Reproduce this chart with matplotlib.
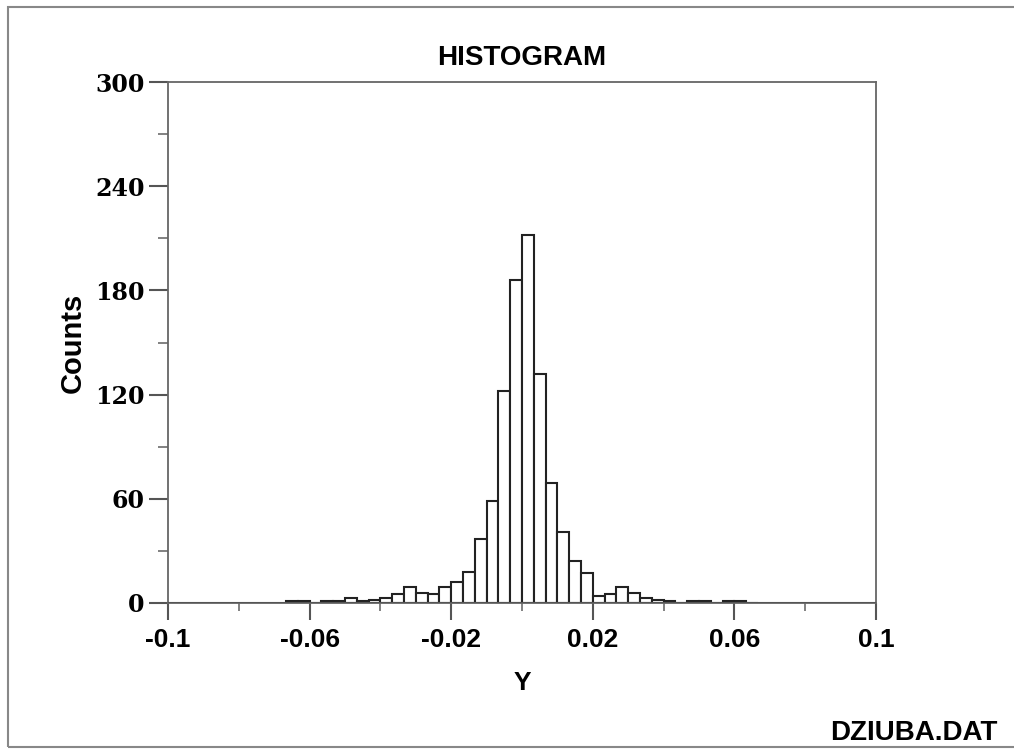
import matplotlib.pyplot as plt
import numpy as np
from matplotlib.patches import Rectangle

# class width 1/300, bins from -0.0667 to 0.0667
bin_width = 1.0 / 300
bin_left = np.arange(-20, 20) * bin_width
counts = [1, 1, 0, 1, 1, 3, 1, 2, 3, 5,
          9, 6, 5, 9, 12, 18, 37, 59, 122, 186,
          212, 132, 69, 41, 24, 17, 4, 5, 9, 6,
          3, 2, 1, 0, 1, 1, 0, 1, 1, 0]

xticks = [-0.1, -0.06, -0.02, 0.02, 0.06, 0.1]
xtick_labels = ['-0.1', '-0.06', '-0.02', '0.02', '0.06', '0.1']
xminor = [-0.08, -0.04, 0.0, 0.04, 0.08]
yticks = [0, 60, 120, 180, 240, 300]
yminor = [30, 90, 150, 210, 270]

sans = ['Liberation Sans', 'DejaVu Sans']
serif = ['DejaVu Serif', 'Liberation Serif']

fig = plt.figure(figsize=(10.14, 7.49), dpi=100)
ax = fig.add_axes([168 / 1014, 1 - 603 / 749, (876 - 168) / 1014, (603 - 82) / 749])

ax.bar(bin_left, counts, width=bin_width, align='edge', facecolor='white',
       edgecolor='#222222', linewidth=1.5, zorder=3)
ax.axhline(0, color='#555555', linewidth=1.5, zorder=4)

ax.set_xlim(-0.1, 0.1)
ax.set_ylim(0, 300)
ax.set_xticks(xticks)
ax.set_xticklabels(xtick_labels, family=sans, fontsize=19, fontweight='bold')
ax.set_xticks(xminor, minor=True)
ax.set_yticks(yticks)
ax.set_yticklabels([str(v) for v in yticks], family=serif, fontsize=17,
                   fontweight='bold')
ax.set_yticks(yminor, minor=True)

for s in ax.spines.values():
    s.set_color('#666666')
    s.set_linewidth(1.3)

ax.tick_params(axis='both', which='major', direction='out', color='#555555',
               width=1.5)
ax.tick_params(axis='x', which='major', length=12, pad=6)
ax.tick_params(axis='x', which='minor', length=6, width=1.3, color='#777777')
ax.tick_params(axis='y', which='major', length=14, pad=3)
ax.tick_params(axis='y', which='minor', length=7, width=1.3, color='#777777')

ax.set_title('HISTOGRAM', family=sans, fontsize=20, fontweight='bold', pad=12)
ax.set_xlabel('Y', family=sans, fontsize=19, fontweight='bold', labelpad=14)
ax.set_ylabel('Counts', family=sans, fontsize=21, fontweight='bold', labelpad=6)

fig.text(830 / 1014, 1 - 733 / 749, 'DZIUBA.DAT', ha='left', va='center',
         family=sans, fontsize=20, fontweight='bold')

# outer frame
fig.patches.append(Rectangle((8 / 1014, 2 / 749), 1.1, 1 - 9 / 749,
                             transform=fig.transFigure, fill=False,
                             edgecolor='#888888', linewidth=1.5))

plt.savefig('out.png', dpi=100)
